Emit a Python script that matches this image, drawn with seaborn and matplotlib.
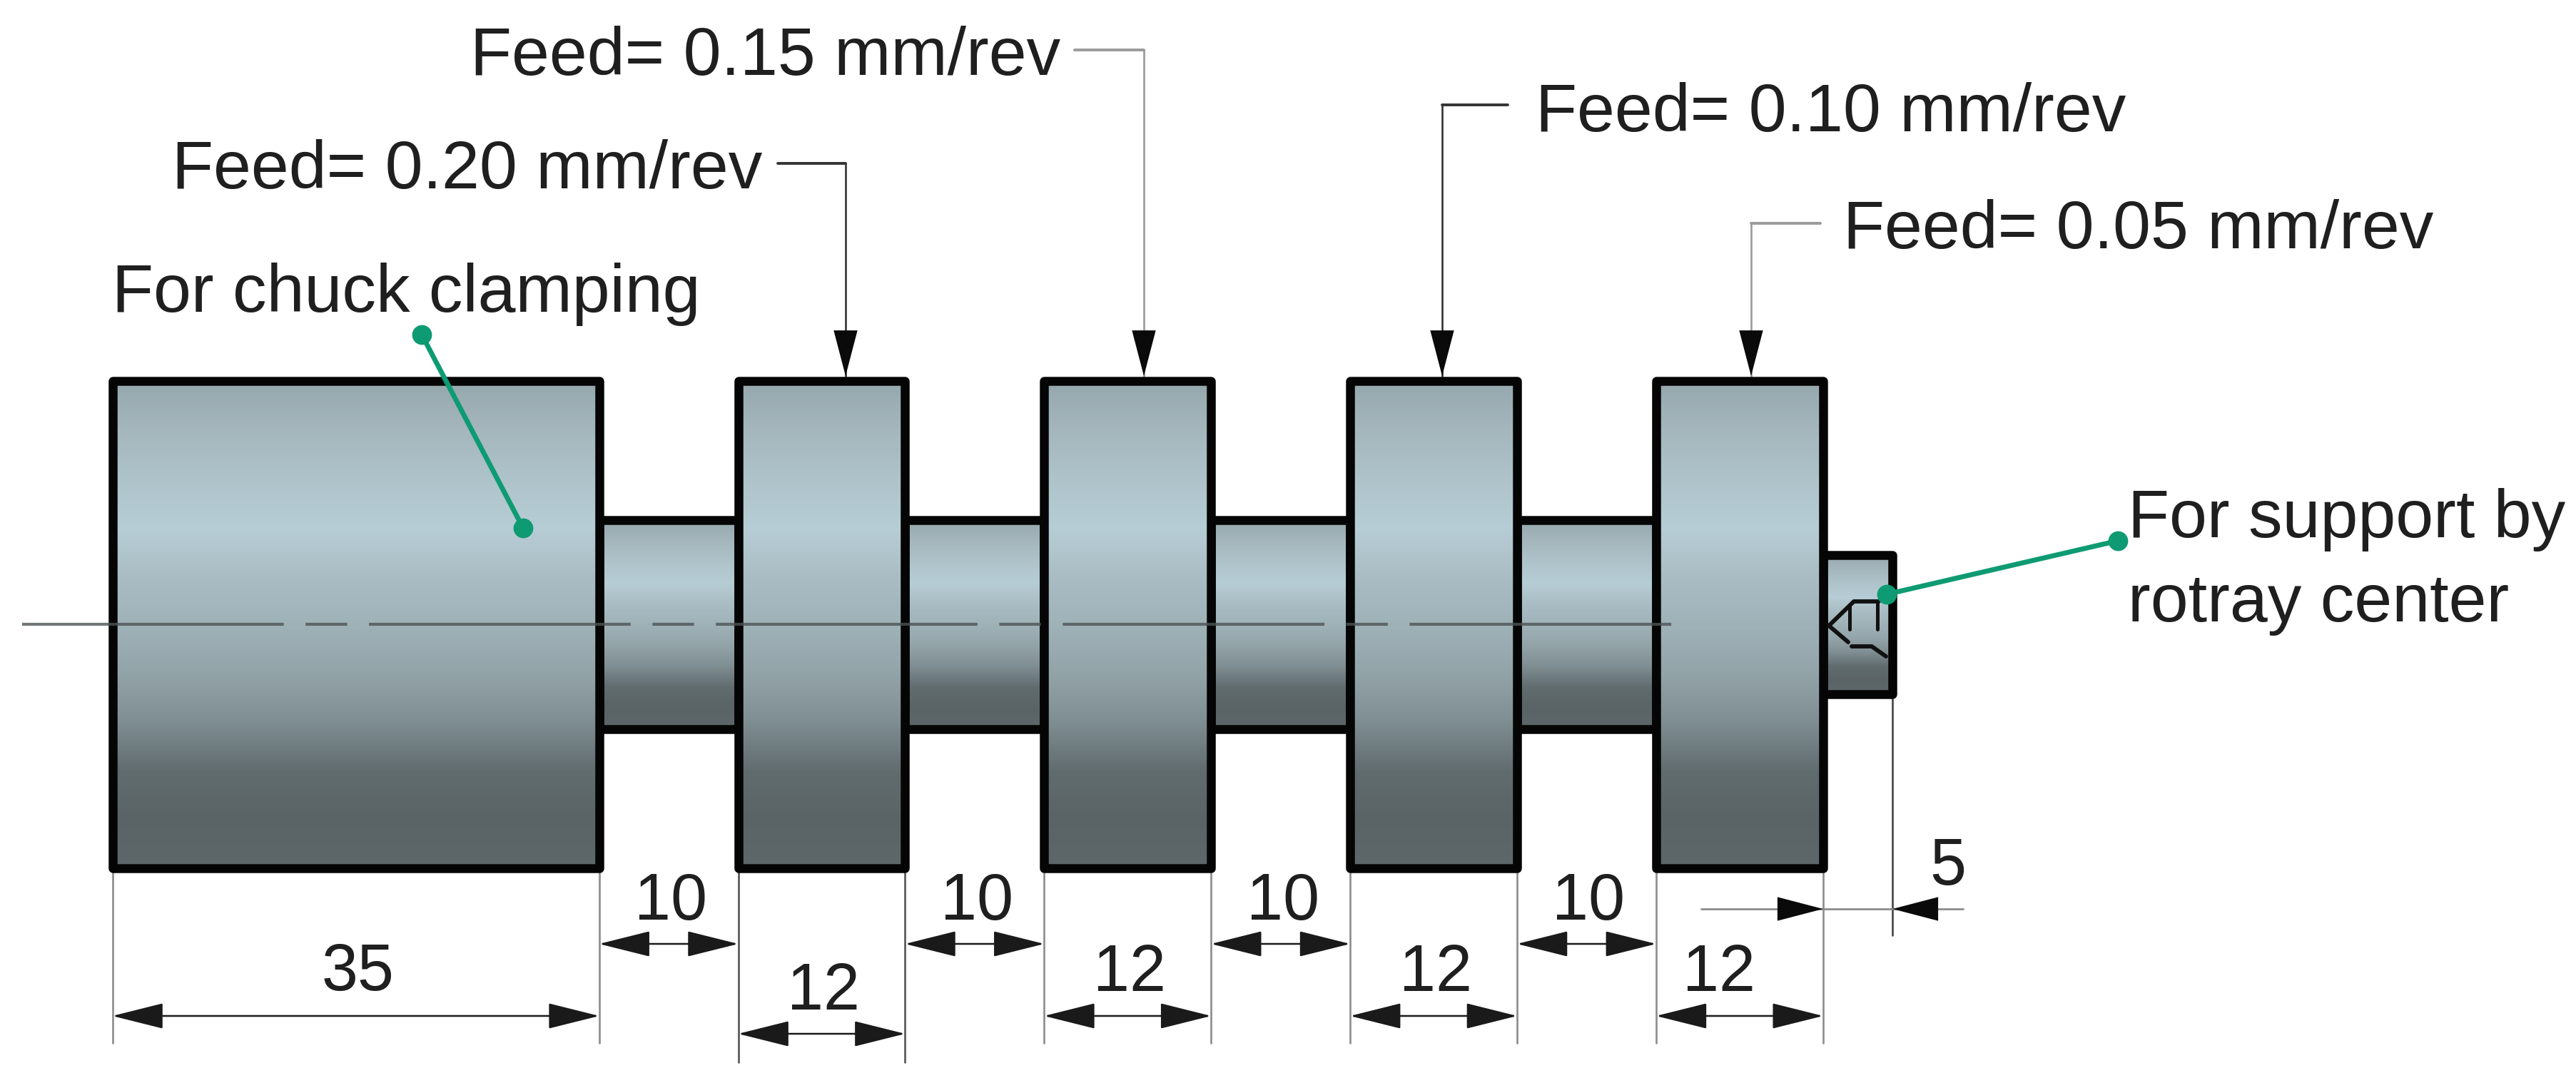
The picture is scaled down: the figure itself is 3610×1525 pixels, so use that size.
# -*- coding: utf-8 -*-
"""Stepped turning specimen with feed call-outs, drawn in mm"""
import numpy as np
import matplotlib
matplotlib.use("Agg")
import matplotlib.pyplot as plt
from matplotlib.patches import Rectangle
import seaborn as sns

# sections from chuck end to tailstock end (mm)
section_lengths = [35, 10, 12, 10, 12, 10, 12, 10, 12, 5]
section_diameters = [35, 15, 35, 15, 35, 15, 35, 15, 35, 10]
feed_labels = ["Feed= 0.20 mm/rev", "Feed= 0.15 mm/rev", "Feed= 0.10 mm/rev", "Feed= 0.05 mm/rev"]
dim_labels = ["35", "10", "12", "10", "12", "10", "12", "10", "12", "5"]
shade_colors = ["#95A8AE", "#A5B7BD", "#AEC3CA", "#B7CDD5", "#AABDC4", "#9FB2B8",
                "#93A4A9", "#7F8E92", "#616C6F", "#5A6466", "#5E686A"]

MM = 19.49        # reference px per mm
X0, Y0 = 157.5, 875.5
FONT = 68.5
INK = "#1f1f1f"


def at(px, py):
    """reference pixel -> drawing mm"""
    return (px - X0) / MM, (Y0 - py) / MM


def seg(ax, p, q, **kw):
    a, b = at(*p), at(*q)
    ax.plot([a[0], b[0]], [a[1], b[1]], **kw)


def dim_arrow(ax, x1, x2, y):
    ax.annotate("", xy=(x2, y), xytext=(x1, y),
                arrowprops=dict(arrowstyle="<|-|>,head_length=46,head_width=11.5", mutation_scale=1,
                                shrinkA=0, shrinkB=0, lw=1.8, color="#1a1a1a"))


def head(ax, tip, tail):
    ax.annotate("", xy=tip, xytext=tail,
                arrowprops=dict(arrowstyle="-|>,head_length=46,head_width=12", mutation_scale=1,
                                shrinkA=0, shrinkB=0, lw=0, color="#0a0a0a"))


sns.set_theme(style="white")
plt.rcParams["font.family"] = ["Liberation Sans", "DejaVu Sans"]
fig = plt.figure(figsize=(36.1, 15.25), dpi=100, facecolor="white")
ax = fig.add_axes([0, 0, 1, 1])
ax.set_axis_off()

shade = sns.blend_palette(shade_colors, as_cmap=True)
gradient = np.linspace(0, 1, 256)[:, None]
starts = np.concatenate([[0], np.cumsum(section_lengths)[:-1]])

# necks under the discs
order = sorted(range(len(section_lengths)), key=lambda i: section_diameters[i])
for n, i in enumerate(order):
    x, w, d = starts[i], section_lengths[i], section_diameters[i]
    z = 2 + n * 0.1
    ax.imshow(gradient, cmap=shade, extent=(x, x + w, -d / 2, d / 2), aspect="auto",
              origin="upper", zorder=z)
    ax.add_patch(Rectangle((x, -d / 2), w, d, fill=False, ec="#050505", lw=9.0,
                           joinstyle="round", zorder=z + 0.05))

# centre line
seg(ax, (31, Y0), (2348, Y0), color="#4d5355", alpha=0.8, lw=3.0,
    dashes=(264 / 3.0, 22 / 3.0, 42 / 3.0, 22 / 3.0), zorder=4)

# centre hole in the tip
hole_x = [2633, 2598, 2563, 2590]
hole_y = [843, 843, 877, 900]
hx, hy = zip(*[at(a, b) for a, b in zip(hole_x, hole_y)])
ax.plot(hx, hy, color="#111111", lw=4.2, zorder=5)
lip_x = [2595, 2623, 2643]
lip_y = [906, 906, 920]
lx, ly = zip(*[at(a, b) for a, b in zip(lip_x, lip_y)])
ax.plot(lx, ly, color="#111111", lw=4.2, zorder=5)
seg(ax, (2592, 850), (2592, 882), color="#111111", lw=3.6, zorder=5)
seg(ax, (2631, 843), (2631, 882), color="#111111", lw=3.6, zorder=5)

# extension lines
ext_col = "#8c8c8c"
ext_bottom = at(0, 1462)[1]
for x in [0, 35, 67, 79, 89, 101, 111, 123]:
    ax.plot([x, x], [-35 / 2, ext_bottom], color=ext_col, lw=1.9, zorder=1)
for x in [45, 57]:
    ax.plot([x, x], [-35 / 2, at(0, 1489)[1]], color="#555555", lw=1.9, zorder=1)
ax.plot([128, 128], [-5, at(0, 1311)[1]], color="#444444", lw=1.9, zorder=1)

# dimension arrows and labels
low_y = at(0, 1424)[1]
gap_y = at(0, 1323)[1]
for i, (x, w, lab) in enumerate(zip(starts, section_lengths, dim_labels)):
    if lab == "5":
        continue
    if lab == "10":
        y, ty = gap_y, at(0, 1265)[1]
    elif i == 2:
        y, ty = at(0, 1449)[1], at(0, 1391)[1]
    elif lab == "35":
        y, ty = low_y, at(0, 1364)[1]
    else:
        y, ty = low_y, at(0, 1365)[1]
    dim_arrow(ax, x, x + w, y)
    # last 12 sits left of centre in the drawing
    nudge = -1.5 if i == 8 else 0.15
    ax.text(x + w / 2 + nudge, ty, lab, ha="center", va="center", fontsize=66, color=INK)

# the short step gets its arrows from outside
five_y = at(0, 1274)[1]
a_start = at(2384, 0)[0]
a_end = at(2751, 0)[0]
ax.plot([a_start, a_end], [five_y, five_y], color=ext_col, lw=2.0, zorder=1)
head(ax, (123, five_y), (123 - 3.5, five_y))
head(ax, (128, five_y), (128 + 3.5, five_y))
ax.text(*at(2730, 1216), "5", ha="center", va="center", fontsize=66, color=INK)

# feed call-outs
feed_x = [1185, 1603, 2021, 2454]
feed_rise = [229, 70, 147, 313]
feed_stub = [1090, 1506, 2113, 2551]
feed_text = [(241, 264), (659, 105), (2152, 184), (2583, 348)]
line_col = ["#333333", "#9a9a9a", "#333333", "#9a9a9a"]
for lab, fx, ry, sx, tp, c in zip(feed_labels, feed_x, feed_rise, feed_stub, feed_text, line_col):
    seg(ax, (fx, 527), (fx, ry), color=c, lw=1.9, zorder=1, solid_capstyle="projecting")
    seg(ax, (fx, ry), (sx, ry), color=c, lw=2.8, zorder=1)
    head(ax, at(fx, 527), at(fx, 462))
    ax.text(*at(*tp), lab, ha="left", va="baseline", fontsize=FONT, color=INK)

# green notes
green = "#0E9B73"
for p, q in [((591, 469), (733, 740)), ((2968, 758), (2644, 833))]:
    a, b = at(*p), at(*q)
    ax.plot([a[0], b[0]], [a[1], b[1]], color=green, lw=5.0, marker="o", ms=20, mew=0, zorder=6)
ax.text(*at(157, 437), "For chuck clamping", ha="left", va="baseline", fontsize=FONT, color=INK)
ax.text(*at(2982, 753), "For support by", ha="left", va="baseline", fontsize=FONT, color=INK)
ax.text(*at(2982, 871), "rotray center", ha="left", va="baseline", fontsize=FONT, color=INK)

ax.set_xlim(-X0 / MM, (3610 - X0) / MM)
ax.set_ylim((Y0 - 1525) / MM, Y0 / MM)

fig.savefig("out.png", dpi=100, facecolor="white")
